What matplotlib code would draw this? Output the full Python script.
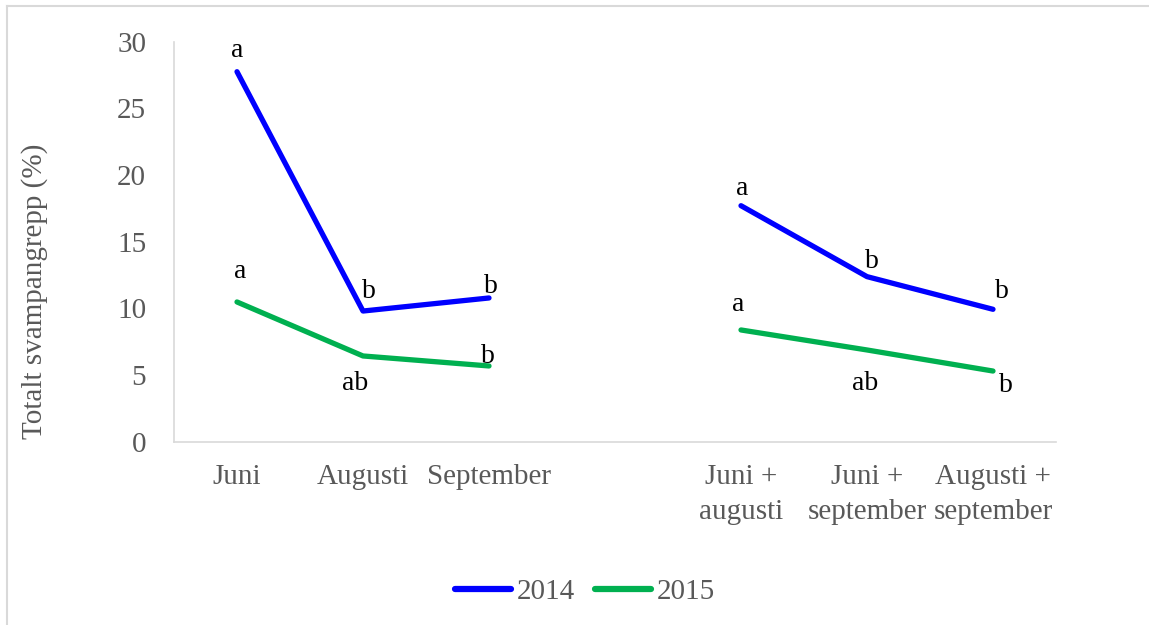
import numpy as np
import matplotlib
matplotlib.use("Agg")
import matplotlib.pyplot as plt
from matplotlib.lines import Line2D

plt.rcParams['font.family'] = ['Liberation Serif', 'DejaVu Serif']

categories = ["Juni", "Augusti", "September", "",
              "Juni +\naugusti", "Juni +\nseptember", "Augusti +\nseptember"]
series_2014 = [27.75, 9.8, 10.78, np.nan, 17.7, 12.38, 9.93]
series_2015 = [10.48, 6.43, 5.68, np.nan, 8.38, 6.88, 5.3]
letters_2014 = ["a", "b", "b", "", "a", "b", "b"]
letters_2015 = ["a", "ab", "b", "", "a", "ab", "b"]
yticks = [0, 5, 10, 15, 20, 25, 30]

# label offsets in pixels (style only)
off_2014 = [(0, 15), (6, 13), (2, 5), (0, 0), (1, 11), (5, 9), (9, 11)]
off_2015 = [(3, 24), (-8, -34), (-1, 3), (0, 0), (-3, 19), (-2, -40), (13, -21)]

W, H = 1149, 625
fig = plt.figure(figsize=(W / 100, H / 100), dpi=100)
ax = fig.add_axes([174 / W, 1 - 441.7 / H, (1056 - 174) / W, (441.7 - 41.7) / H])

x = np.arange(len(categories))
blue = "#0000FF"
green = "#00B050"
ax.plot(x, series_2014, color=blue, lw=3.8, solid_capstyle='round', solid_joinstyle='round', label="2014")
ax.plot(x, series_2015, color=green, lw=3.8, solid_capstyle='round', solid_joinstyle='round', label="2015")

for xi, (v, t, o) in enumerate(zip(series_2014, letters_2014, off_2014)):
    if t:
        ax.annotate(t, (xi, v), xytext=o, textcoords='offset pixels', ha='center',
                    va='baseline', fontsize=20, color='black')
for xi, (v, t, o) in enumerate(zip(series_2015, letters_2015, off_2015)):
    if t:
        ax.annotate(t, (xi, v), xytext=o, textcoords='offset pixels', ha='center',
                    va='baseline', fontsize=20, color='black')

ax.set_xlim(-0.5, len(categories) - 0.5)
ax.set_ylim(0, 30)
ax.set_yticks(yticks)
ax.set_yticklabels([str(v) for v in yticks])
ax.set_xticks(x)
ax.set_xticklabels(categories, linespacing=1.45)
ax.tick_params(axis='both', length=0, colors='#595959', labelsize=21)
ax.tick_params(axis='y', pad=20)
ax.tick_params(axis='x', pad=16)
for s in ['top', 'right']:
    ax.spines[s].set_visible(False)
for s in ['left', 'bottom']:
    ax.spines[s].set_color('#D9D9D9')
    ax.spines[s].set_linewidth(1.2)

fig.text(35 / W, 1 - 291 / H, "Totalt svampangrepp (%)", rotation=90, ha='center', va='center',
         fontsize=21, color='#595959')

handles = [Line2D([], [], color=blue, lw=4.5, solid_capstyle='round'),
           Line2D([], [], color=green, lw=4.5, solid_capstyle='round')]
leg = fig.legend(handles, ["2014", "2015"], loc='center', bbox_to_anchor=(585 / W, 1 - 592 / H),
                 ncol=2, frameon=False, fontsize=21, handlelength=1.9, handletextpad=0.2,
                 columnspacing=0.7, labelcolor='#595959')

# chart border (top and left only visible)
fig.add_artist(Line2D([7 / W, 7 / W], [0, 1 - 5.5 / H], transform=fig.transFigure, color='#D9D9D9', lw=1.5))
fig.add_artist(Line2D([7 / W, 1], [1 - 5.5 / H, 1 - 5.5 / H], transform=fig.transFigure, color='#D9D9D9', lw=1.5))

fig.savefig("out.png", dpi=100)
